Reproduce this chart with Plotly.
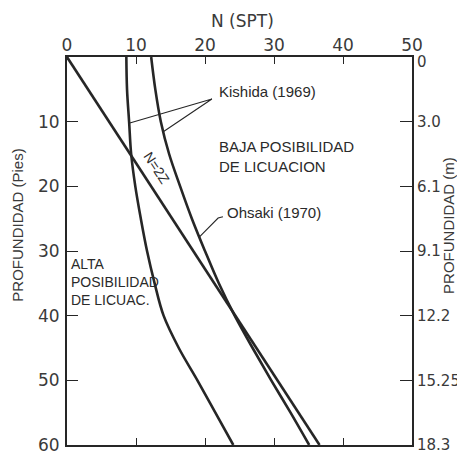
import plotly.graph_objects as go

# ---------------- data ----------------
# depth in feet, N(SPT)
depth_ft = [0, 5, 10, 15, 20, 25, 30, 35, 40, 45, 50, 55, 60]
kishida_low_N = [8.6, 8.7, 9.0, 9.3, 9.9, 10.7, 11.6, 12.7, 14.0, 16.2, 18.9, 21.5, 24.1]
kishida_high_N = [12.2, 12.8, 13.6, 14.8, 16.4, 18.1, 20.0, 22.0, 24.3, 26.9, 29.6, 32.4, 35.1]
n2z_depth = [0, 60]
n2z_N = [0, 36.6]

kishida_ptr_N = [9.1, 21.0, 13.9]
kishida_ptr_depth = [10.2, 6.5, 11.6]
ohsaki_ptr_N = [22.6, 21.9, 19.2]
ohsaki_ptr_depth = [24.7, 24.9, 27.8]

x_ticks = [0, 10, 20, 30, 40, 50]
x_ticks_bottom = [10, 20, 30, 40]
y_ticks_ft = [10, 20, 30, 40, 50, 60]
y_ticks_right_pos = [0, 10, 20, 30, 40, 50, 60]
y_ticks_right_text = ["0", "3.0", "6.1", "9.1", "12.2", "15.25", "18.3"]

LINE = "#262626"
TXT = "#3a3a3a"

fig = go.Figure()
fig.add_trace(go.Scatter(x=kishida_low_N, y=depth_ft, mode="lines",
                         line=dict(color=LINE, width=2.6, shape="spline"), hoverinfo="skip"))
fig.add_trace(go.Scatter(x=kishida_high_N, y=depth_ft, mode="lines",
                         line=dict(color=LINE, width=2.6, shape="spline"), hoverinfo="skip"))
fig.add_trace(go.Scatter(x=n2z_N, y=n2z_depth, mode="lines",
                         line=dict(color=LINE, width=2.6), hoverinfo="skip"))
fig.add_trace(go.Scatter(x=kishida_ptr_N, y=kishida_ptr_depth, mode="lines",
                         line=dict(color=LINE, width=1.1), hoverinfo="skip"))
fig.add_trace(go.Scatter(x=ohsaki_ptr_N, y=ohsaki_ptr_depth, mode="lines",
                         line=dict(color=LINE, width=1.1), hoverinfo="skip"))
fig.add_trace(go.Scatter(x=[None], y=[None], xaxis="x2", showlegend=False))
fig.add_trace(go.Scatter(x=[None], y=[None], yaxis="y2", showlegend=False))

tickfont = dict(family="DejaVu Sans", size=17, color=TXT)
rtickfont = dict(family="DejaVu Sans", size=15, color=TXT)
lblfont = dict(family="Liberation Sans", size=15, color="#2a2a2a")

# right-axis labels: the top "0" sits a little below the corner, drawn as an annotation
right_text_axis = [""] + y_ticks_right_text[1:]

# the page body has an 8 px margin, so the figure is drawn 8 px smaller
fig.update_layout(
    width=457, height=446,
    margin=dict(l=59, r=53, t=49, b=9, autoexpand=False),
    paper_bgcolor="white", plot_bgcolor="white",
    showlegend=False,
    xaxis=dict(range=[0, 50], side="top", tickvals=x_ticks, ticks="inside",
               ticklen=7, tickwidth=1.3, tickcolor=LINE, showline=True,
               linecolor=LINE, linewidth=2, showgrid=False, zeroline=False,
               tickfont=tickfont, automargin=False, ticklabelstandoff=-3,
               ticklabeloverflow="allow"),
    xaxis2=dict(range=[0, 50], side="bottom", overlaying="x", anchor="y",
                tickvals=x_ticks_bottom, ticks="inside", ticklen=7, tickwidth=1.3,
                tickcolor=LINE, showline=True, linecolor=LINE, linewidth=2,
                showticklabels=False, showgrid=False, zeroline=False, automargin=False),
    yaxis=dict(range=[60, 0], tickvals=y_ticks_ft, ticks="inside", ticklen=11,
               tickwidth=1.3, tickcolor=LINE, showline=True, linecolor=LINE,
               linewidth=2, showgrid=False, zeroline=False, tickfont=tickfont,
               ticklabelstandoff=2, automargin=False, ticklabeloverflow="allow"),
    yaxis2=dict(range=[60, 0], overlaying="y", side="right", anchor="x",
                tickvals=y_ticks_right_pos, ticktext=right_text_axis,
                ticks="inside", ticklen=12, tickwidth=1.3, tickcolor=LINE,
                showline=True, linecolor=LINE, linewidth=2, showgrid=False,
                zeroline=False, automargin=False, ticklabeloverflow="allow",
                tickfont=rtickfont),
)

ann = []
ann.append(dict(text=y_ticks_right_text[0], xref="paper", yref="paper", x=1.0, y=0.986,
                xanchor="left", yanchor="middle", xshift=3, showarrow=False, font=rtickfont))
ann.append(dict(text="N (SPT)", xref="paper", yref="paper", x=0.51, y=1.093,
                xanchor="center", yanchor="middle",
                showarrow=False, font=dict(family="DejaVu Sans", size=17, color=TXT)))
ann.append(dict(text="PROFUNDIDAD (Pies)", xref="paper", yref="paper", x=-0.146, y=0.567,
                xanchor="center", yanchor="middle", textangle=-90, showarrow=False,
                font=dict(family="Liberation Sans", size=15, color=TXT)))
ann.append(dict(text="PROFUNDIDAD (m)", xref="paper", yref="paper", x=1.104, y=0.567,
                xanchor="center", yanchor="middle", textangle=-90, showarrow=False,
                font=dict(family="Liberation Sans", size=15, color=TXT)))
for txt, xN, yD in [("Kishida (1969)", 21.7, 5.4),
                    ("BAJA POSIBILIDAD", 21.7, 13.9),
                    ("DE LICUACION", 21.7, 17.0),
                    ("Ohsaki (1970)", 22.9, 24.0)]:
    ann.append(dict(text=txt, x=xN, y=yD, xref="x", yref="y", xanchor="left",
                    yanchor="middle", showarrow=False, font=lblfont))
ann.append(dict(text="ALTA<br>POSIBILIDAD<br>DE LICUAC.", x=0.35, y=34.8, xref="x", yref="y",
                xanchor="left", yanchor="middle", align="left", showarrow=False,
                font=dict(family="Liberation Sans", size=14, color="#2a2a2a")))
ann.append(dict(text="N=2Z", x=13.0, y=17.2, xref="x", yref="y", textangle=57,
                xanchor="center", yanchor="middle",
                showarrow=False, font=dict(family="Liberation Sans", size=14, color="#2a2a2a")))
fig.update_layout(annotations=ann)

fig.write_html("out.html")
